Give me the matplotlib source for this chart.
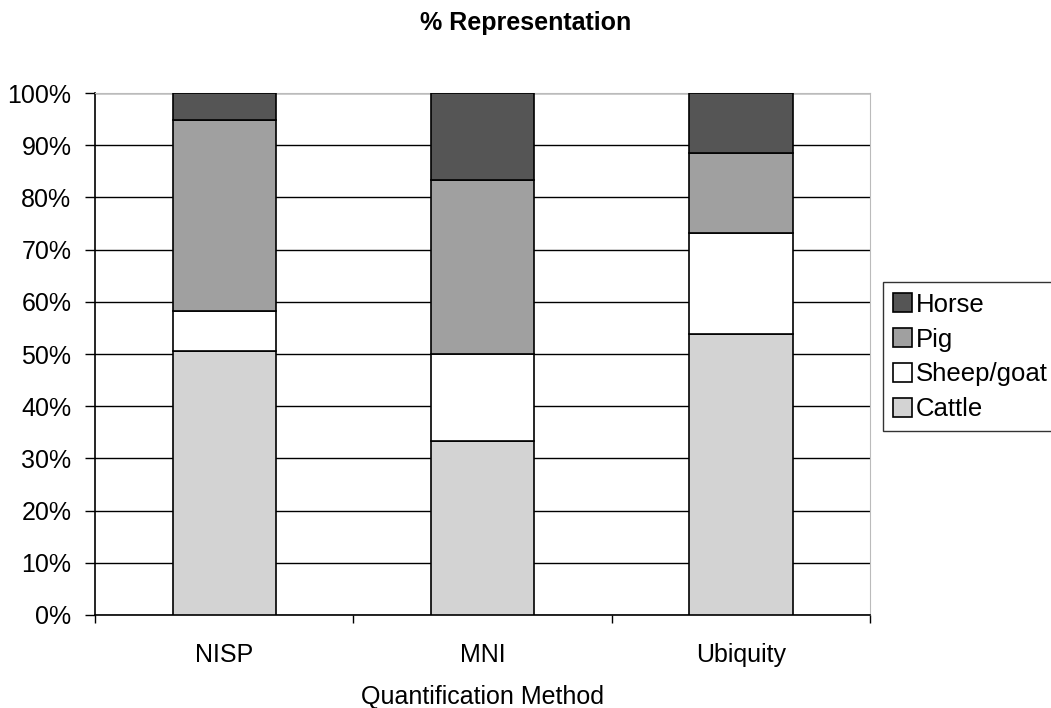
import numpy as np
import matplotlib.pyplot as plt
from matplotlib.ticker import PercentFormatter

plt.rcParams['font.family'] = ['Liberation Sans', 'DejaVu Sans']

methods = ["NISP", "MNI", "Ubiquity"]
species = ["Cattle", "Sheep/goat", "Pig", "Horse"]
cattle = [50.6, 33.3, 53.8]
sheep_goat = [7.6, 16.7, 19.3]
pig = [36.6, 33.3, 15.4]
horse = [5.2, 16.7, 11.5]
colors = ["#d3d3d3", "#ffffff", "#a0a0a0", "#555555"]

fig = plt.figure(figsize=(10.51, 7.08), dpi=100)
ax = fig.add_axes([0.0904, 0.1314, 0.7374, 0.7372])

x = np.arange(len(methods))
bottom = np.zeros(len(methods))
handles = []
for name, vals, c in zip(species, [cattle, sheep_goat, pig, horse], colors):
    b = ax.bar(x, vals, 0.4, bottom=bottom, color=c, edgecolor="black",
               linewidth=1.2, label=name, zorder=3)
    handles.append(b)
    bottom += np.array(vals)

ax.set_xlim(-0.5, 2.5)
ax.set_ylim(0, 100)
ax.set_yticks(np.arange(0, 101, 10))
ax.yaxis.set_major_formatter(PercentFormatter(decimals=0))
ax.grid(axis="y", color="black", linewidth=1, zorder=0)
ax.set_axisbelow(True)

# category boundary ticks on x, labels in between
ax.set_xticks([-0.5, 0.5, 1.5, 2.5])
ax.set_xticklabels([])
ax.set_xticks(x, minor=True)
ax.set_xticklabels(methods, minor=True)
ax.tick_params(axis="x", which="minor", length=0, pad=20, labelsize=18)
ax.tick_params(axis="x", which="major", length=6, direction="out", width=1)
ax.tick_params(axis="y", length=7, direction="out", width=1, labelsize=18, pad=10)

for s in ["top", "right"]:
    ax.spines[s].set_color("#bbbbbb")
for s in ["left", "bottom"]:
    ax.spines[s].set_linewidth(1.2)

ax.set_xlabel("Quantification Method", fontsize=18, labelpad=13)
fig.suptitle("% Representation", fontsize=18, fontweight="bold", y=0.985)

leg = fig.legend(handles[::-1], species[::-1], loc="upper left",
                 bbox_to_anchor=(0.840, 0.601), fontsize=18.5,
                 frameon=True, fancybox=False, edgecolor="black",
                 handlelength=0.74, handleheight=0.74, handletextpad=0.15,
                 borderpad=0.4, labelspacing=0.42, borderaxespad=0)
leg.get_frame().set_linewidth(1)

fig.savefig("out.png", dpi=100)
